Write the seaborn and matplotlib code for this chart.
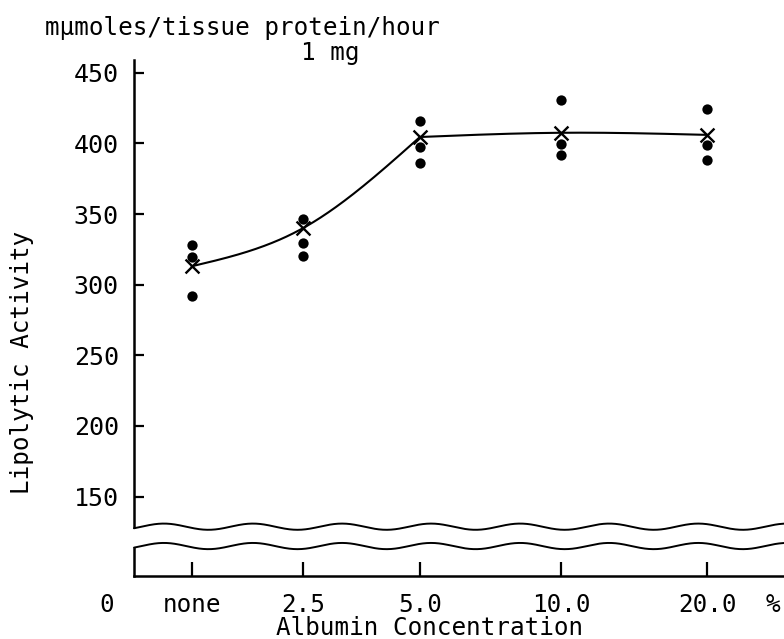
import numpy as np
import pandas as pd
import seaborn as sns
import matplotlib
matplotlib.use("Agg")
import matplotlib.pyplot as plt

# albumin concentration (%) and where each sits on the drawn axis
conc_labels = ["none", "2.5", "5.0", "10.0", "20.0"]
tick_pos = [1.0, 2.0, 3.05, 4.32, 5.63]

# individual determinations (three per concentration)
rep_none = [328, 319.5, 292]
rep_2_5 = [346.5, 329.5, 320]
rep_5_0 = [415.5, 397.5, 386]
rep_10_0 = [431, 399.5, 391.5]
rep_20_0 = [424.5, 398.5, 388.5]

# the "x" marks the curve is drawn through
mark_values = [313, 340, 404.5, 407.5, 406]

y_ticks = [150, 200, 250, 300, 350, 400, 450]


def natural_spline(x, y, xs):
    x = np.asarray(x, float)
    y = np.asarray(y, float)
    n = len(x)
    h = np.diff(x)
    A = np.zeros((n, n))
    b = np.zeros(n)
    A[0, 0] = A[-1, -1] = 1
    for i in range(1, n - 1):
        A[i, i - 1] = h[i - 1]
        A[i, i] = 2 * (h[i - 1] + h[i])
        A[i, i + 1] = h[i]
        b[i] = 6 * ((y[i + 1] - y[i]) / h[i] - (y[i] - y[i - 1]) / h[i - 1])
    M = np.linalg.solve(A, b)
    out = np.empty_like(xs)
    for k, xv in enumerate(xs):
        i = min(max(np.searchsorted(x, xv) - 1, 0), n - 2)
        t1 = x[i + 1] - xv
        t0 = xv - x[i]
        out[k] = (M[i] * t1 ** 3 + M[i + 1] * t0 ** 3) / (6 * h[i]) \
            + (y[i] / h[i] - M[i] * h[i] / 6) * t1 \
            + (y[i + 1] / h[i] - M[i + 1] * h[i] / 6) * t0
    return out


reps = [rep_none, rep_2_5, rep_5_0, rep_10_0, rep_20_0]
points = pd.DataFrame(
    [{"pos": p, "conc": c, "activity": v}
     for p, c, vals in zip(tick_pos, conc_labels, reps) for v in vals]
)
marks = pd.DataFrame({"pos": tick_pos, "conc": conc_labels, "activity": mark_values})

sns.set_style("ticks")
plt.rcParams["font.family"] = ["DejaVu Sans Mono"]
plt.rcParams["text.color"] = "black"

fig = plt.figure(figsize=(7.84, 6.39), dpi=100)
W, H = 784, 639
ax = fig.add_axes([134 / W, (H - 576) / H, 650 / W, (576 - 60) / H])

xlo, xhi = 0.482, 6.32
ylo, yhi = 93.8, 459
ax.set_xlim(xlo, xhi)
ax.set_ylim(ylo, yhi)

# hand-drawn curve: rising part and plateau drawn as two smooth pieces
for a, b in [(0, 3), (2, 5)]:
    xs = np.linspace(tick_pos[a], tick_pos[b - 1], 300)
    ax.plot(xs, natural_spline(tick_pos[a:b], mark_values[a:b], xs),
            color="black", lw=1.5, zorder=2)

sns.scatterplot(data=points, x="pos", y="activity", ax=ax, color="black",
                s=55, edgecolor="black", linewidth=0, zorder=3)
sns.scatterplot(data=marks, x="pos", y="activity", ax=ax, color="black",
                marker="x", s=100, linewidth=1.7, zorder=4)

# axis break
xx = np.linspace(xlo, xhi, 800)
wave = 2.2 * np.sin(2 * np.pi * (xx - 0.55) / 0.8)
upper = 128.7 + wave
lower = 115.0 + wave
ax.fill_between(np.r_[xlo - 0.05, xx], np.r_[lower[0], lower], np.r_[upper[0], upper],
                color="white", zorder=5, clip_on=False, lw=0)
ax.plot(xx, upper, color="black", lw=1.4, zorder=6, clip_on=False)
ax.plot(xx, lower, color="black", lw=1.4, zorder=6, clip_on=False)

for side in ["top", "right"]:
    ax.spines[side].set_visible(False)
for side in ["left", "bottom"]:
    ax.spines[side].set_linewidth(1.8)
    ax.spines[side].set_color("black")

ax.set_yticks(y_ticks)
ax.set_yticklabels([str(t) for t in y_ticks])
ax.set_xticks(tick_pos)
ax.set_xticklabels(conc_labels)
ax.tick_params(axis="y", direction="in", length=7, width=1.6, labelsize=18, pad=11, colors="black")
ax.tick_params(axis="x", direction="in", length=10, width=1.6, labelsize=17.5, pad=12, colors="black")
ax.set_xlabel("")
ax.set_ylabel("")

for xv, txt in [(0.24, "0"), (6.22, "%")]:
    ax.annotate(txt, xy=(xv, 0), xycoords=("data", "axes fraction"), xytext=(0, -12),
                textcoords="offset points", fontsize=17.5, ha="center", va="top",
                annotation_clip=False)

fig.text(430 / W, 1 - 628 / H, "Albumin Concentration", fontsize=17.5, ha="center", va="center")
fig.text(22 / W, 1 - 362 / H, "Lipolytic Activity", fontsize=17.5, ha="center", va="center",
         rotation=90)
fig.text(242 / W, 1 - 28 / H, "m\u03bcmoles/tissue protein/hour", fontsize=17.5,
         ha="center", va="center")
fig.text(330 / W, 1 - 53 / H, "1 mg", fontsize=17.5, ha="center", va="center")

fig.savefig("out.png", dpi=100)
